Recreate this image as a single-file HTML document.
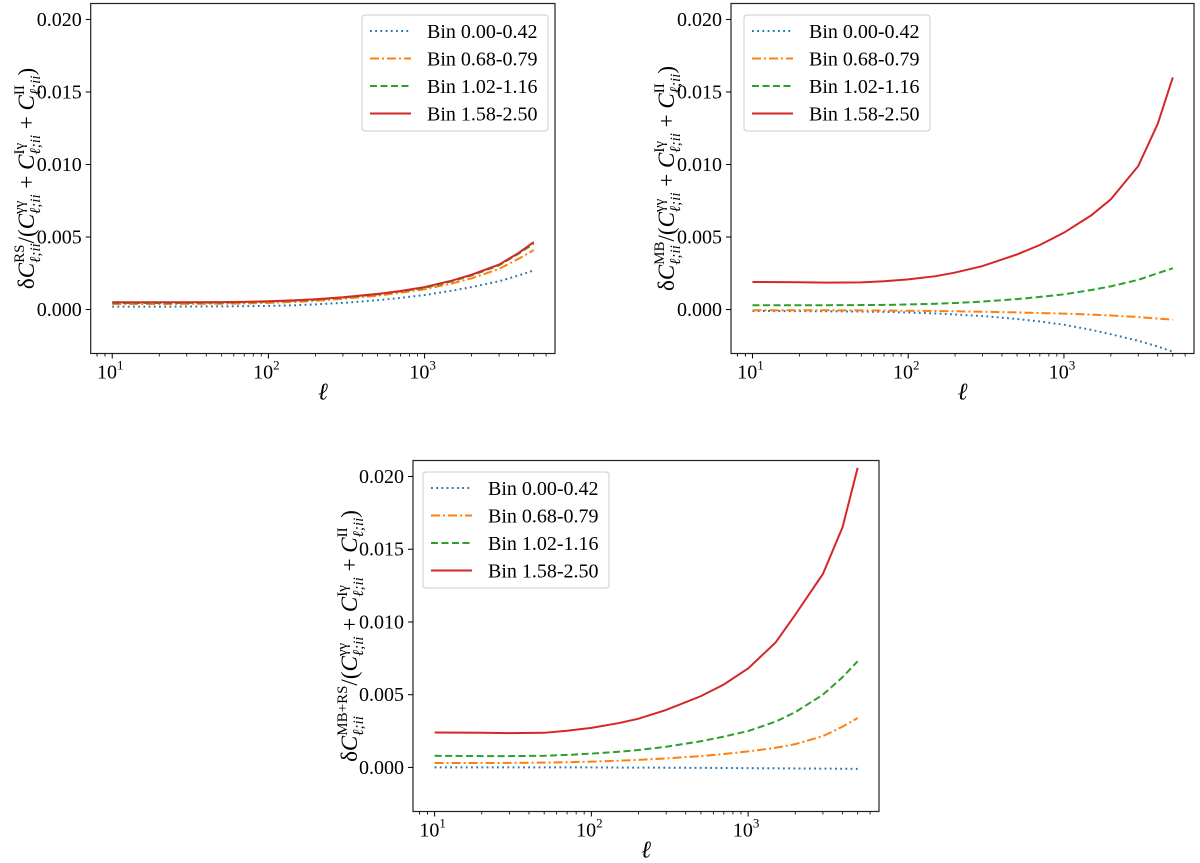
<!DOCTYPE html>
<html><head><meta charset="utf-8">
<style>
html,body{margin:0;padding:0;background:#fff;}
svg{display:block;font-family:"Liberation Serif",serif;}
</style></head>
<body>
<svg id="fig" width="1200" height="863" viewBox="0 0 1200 863" xmlns="http://www.w3.org/2000/svg"></svg>
<script>
const ells = [10,20,30,50,70,100,150,200,300,500,700,1000,1500,2000,3000,4000,5000];
const seriesNames = ["Bin 0.00-0.42","Bin 0.68-0.79","Bin 1.02-1.16","Bin 1.58-2.50"];
const yTicks = [0.000,0.005,0.010,0.015,0.020];
const yTickLabels = ["0.000","0.005","0.010","0.015","0.020"];
const xTicks = [10,100,1000];
const xTickExp = ["1","2","3"];
// panel 1: RS
const rsBlue   = [0.00020,0.00020,0.00021,0.00022,0.00023,0.00025,0.00030,0.00036,0.00046,0.00064,0.00080,0.00100,0.00130,0.00155,0.00195,0.00235,0.00270];
const rsOrange = [0.00038,0.00038,0.00039,0.00040,0.00042,0.00046,0.00053,0.00060,0.00074,0.00096,0.00116,0.00140,0.00180,0.00215,0.00280,0.00350,0.00410];
const rsGreen  = [0.00045,0.00045,0.00046,0.00047,0.00050,0.00054,0.00061,0.00068,0.00082,0.00105,0.00125,0.00150,0.00195,0.00235,0.00305,0.00385,0.00455];
const rsRed    = [0.00050,0.00050,0.00050,0.00051,0.00053,0.00057,0.00064,0.00071,0.00085,0.00108,0.00128,0.00155,0.00200,0.00240,0.00310,0.00390,0.00465];
// panel 2: MB
const mbBlue   = [-0.00010,-0.00011,-0.00012,-0.00014,-0.00016,-0.00020,-0.00027,-0.00034,-0.00045,-0.00065,-0.00082,-0.00105,-0.00140,-0.00170,-0.00215,-0.00255,-0.00290];
const mbOrange = [-0.00005,-0.00005,-0.00005,-0.00006,-0.00007,-0.00008,-0.00010,-0.00012,-0.00015,-0.00020,-0.00024,-0.00028,-0.00035,-0.00041,-0.00052,-0.00062,-0.00070];
const mbGreen  = [0.00030,0.00030,0.00030,0.00031,0.00032,0.00035,0.00040,0.00045,0.00055,0.00072,0.00087,0.00105,0.00135,0.00160,0.00205,0.00250,0.00285];
const mbRed    = [0.00190,0.00188,0.00186,0.00187,0.00195,0.00208,0.00230,0.00255,0.00300,0.00380,0.00445,0.00530,0.00650,0.00760,0.00990,0.01280,0.01600];
// panel 3: MB+RS
const allBlue   = [0.00000,0.00000,0.00000,0.00000,0.00000,0.00000,-0.00001,-0.00001,-0.00002,-0.00003,-0.00004,-0.00005,-0.00006,-0.00007,-0.00008,-0.00009,-0.00010];
const allOrange = [0.00030,0.00030,0.00031,0.00033,0.00036,0.00040,0.00046,0.00052,0.00062,0.00078,0.00092,0.00110,0.00135,0.00160,0.00215,0.00280,0.00340];
const allGreen  = [0.00080,0.00078,0.00078,0.00080,0.00086,0.00095,0.00108,0.00120,0.00142,0.00180,0.00212,0.00250,0.00315,0.00380,0.00500,0.00620,0.00730];
const allRed    = [0.00240,0.00238,0.00236,0.00238,0.00252,0.00272,0.00305,0.00335,0.00395,0.00490,0.00570,0.00680,0.00860,0.01050,0.01330,0.01650,0.02060];

const NS="http://www.w3.org/2000/svg";
const svg=document.getElementById('fig');
function mk(tag,attrs,parent){const e=document.createElementNS(NS,tag);for(const k in attrs)e.setAttribute(k,attrs[k]);(parent||svg).appendChild(e);return e;}
const colors=["#1f77b4","#ff7f0e","#2ca02c","#d62728"];
const dashes=["1.8,3.4","9,3,2,3","7,3.5",""];
const XMIN=Math.log10(7.28), XMAX=Math.log10(6840), YMIN=-0.00303, YMAX=0.0211;

function panel(id,L,R,T,B,series,labelSup,labelX,legX,legY){
  const g=mk('g',{});
  
  
  const xs=v=>L+(Math.log10(v)-XMIN)/(XMAX-XMIN)*(R-L);
  const ys=v=>B-(v-YMIN)/(YMAX-YMIN)*(B-T);
  series.forEach((s,i)=>{
    const d=s.map((v,j)=>(j?'L':'M')+xs(ells[j]).toFixed(2)+','+ys(v).toFixed(2)).join(' ');
    const p=mk('path',{d:d,fill:'none',stroke:colors[i],'stroke-width':2});
    if(dashes[i])p.setAttribute('stroke-dasharray',dashes[i]);
    
    
    g.appendChild(p);
  });
  const frame=mk('rect',{x:L,y:T,width:R-L,height:B-T,fill:'none',stroke:'#222','stroke-width':1.2},g);
  
  
  yTicks.forEach((v,i)=>{
    const y=ys(v);
    mk('line',{x1:L-5,x2:L,y1:y,y2:y,stroke:'#000','stroke-width':1},g);
    const t=mk('text',{x:L-9,y:y+6.5,'text-anchor':'end','font-size':20},g);
    t.textContent=yTickLabels[i];
    
    
  });
  xTicks.forEach((v,i)=>{
    const x=xs(v);
    mk('line',{x1:x,x2:x,y1:B,y2:B+5,stroke:'#000','stroke-width':1},g);
    const t=mk('text',{x:x-2,y:B+25,'text-anchor':'middle','font-size':20},g);
    
    
    t.textContent='10';
    const s=mk('tspan',{'font-size':13,dy:-9},t);s.textContent=xTickExp[i];
  });
  for(let d=0;d<4;d++)for(let m=2;m<=9;m++){
    const v=m*Math.pow(10,d);
    if(Math.log10(v)<XMIN||Math.log10(v)>XMAX)continue;
    const x=xs(v);
    mk('line',{x1:x,x2:x,y1:B,y2:B+3,stroke:'#000','stroke-width':0.8},g);
  }
  [8,9].forEach(v=>{const x=xs(v);mk('line',{x1:x,x2:x,y1:B,y2:B+3,stroke:'#000','stroke-width':0.8},g);});
  const xl=mk('text',{x:(L+R)/2,y:B+46,'text-anchor':'middle','font-size':24,'font-style':'italic'},g);
  xl.textContent='ℓ';
  
  
  // y label
  const cy=(T+B)/2;
  const yl=mk('text',{x:0,y:0,'font-size':23,transform:`translate(${labelX},${cy}) rotate(-90)`},g);
  
  
  const groups=[['δ',null,null],['C',labelSup,'ℓ;ii'],['/(',null,null],['C','γγ','ℓ;ii'],[' + ',null,null],['C','Iγ','ℓ;ii'],[' + ',null,null],['C','II','ℓ;ii'],[')',null,null]];
  let base=0, extra=0;
  groups.forEach(([main,sup,sub])=>{
    const m=mk('tspan',{dy:-base,dx:extra},yl);
    base=0; extra=0;
    m.textContent=main;
    if(main==='C')m.setAttribute('font-style','italic');
    if(sup){
      const s1=mk('tspan',{'font-size':15,dy:-10},yl);s1.textContent=sup;
      const w1=s1.getComputedTextLength();
      const s2=mk('tspan',{'font-size':15,'font-style':'italic',dy:16,dx:-w1},yl);s2.textContent=sub;
      const w2=s2.getComputedTextLength();
      base=6;
      if(w1>w2)extra=w1-w2;
    }
  });
  const bb2=yl.getBBox();
  yl.setAttribute('transform',`translate(${labelX},${cy+bb2.width/2}) rotate(-90)`);
  // legend
  const lg=mk('g',{},g);
  
  
  mk('rect',{x:legX,y:legY,width:186,height:116,rx:3,fill:'#fff',stroke:'#ccc','stroke-width':1},lg);
  seriesNames.forEach((n,i)=>{
    const y=legY+16+i*27.5;
    const ln=mk('line',{x1:legX+8,x2:legX+49,y1:y,y2:y,stroke:colors[i],'stroke-width':2},lg);
    if(dashes[i])ln.setAttribute('stroke-dasharray',dashes[i]);
    const t=mk('text',{x:legX+65,y:y+7,'font-size':20},lg);
    t.textContent=n;
    
    
  });
}
panel('panel-rs',90.7,555,3.5,353.5,[rsBlue,rsOrange,rsGreen,rsRed],'RS',34,362,15);
panel('panel-mb',731,1194,3.5,353.5,[mbBlue,mbOrange,mbGreen,mbRed],'MB',674,744,15);
panel('panel-mb-rs',413,879,460.5,811.5,[allBlue,allOrange,allGreen,allRed],'MB+RS',357,423,472);
</script>
</body></html>
